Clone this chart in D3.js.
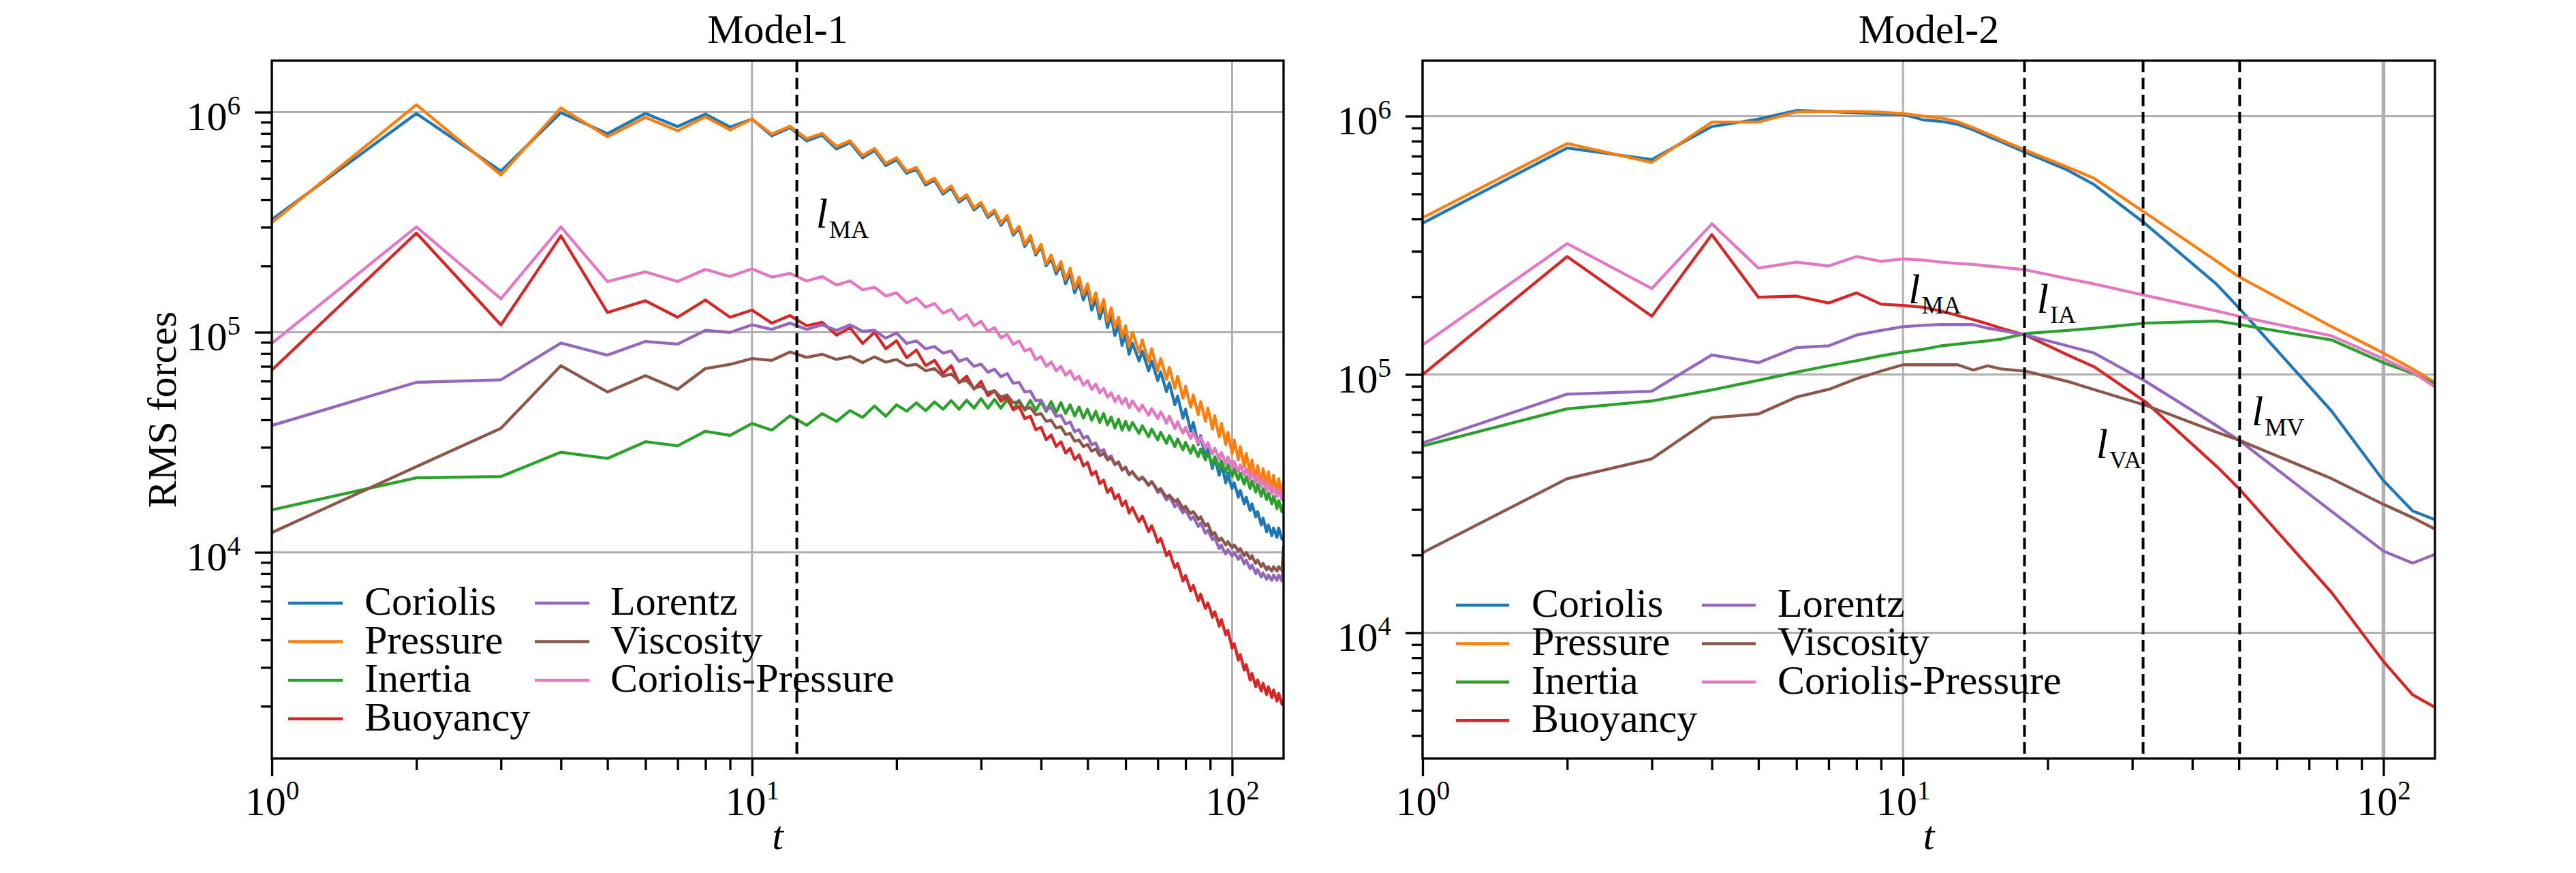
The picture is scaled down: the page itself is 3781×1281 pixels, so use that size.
<!DOCTYPE html>
<html>
<head>
<meta charset="utf-8">
<script src="https://cdn.jsdelivr.net/npm/d3@7"></script>
<style>
  body { margin: 0; background: #fff; }
  svg text { font-family: "Liberation Serif", "Times New Roman", serif; }
</style>
</head>
<body>
<div id="chart"></div>
<script>
// ---- data (RMS forces, in units of 1e3) ----
const UNIT = 1e3;
const seriesNames = ["Coriolis", "Pressure", "Inertia", "Buoyancy", "Lorentz", "Viscosity", "Coriolis-Pressure"];
const seriesColors = ["#1f77b4", "#ff7f0e", "#2ca02c", "#d62728", "#9467bd", "#8c564b", "#e377c2"];

// Model-1: every degree 1..128
const tModel1 = d3.range(1, 129);
const coriolis1 = [325, 986, 540, 995, 798, 986, 859, 980, 855, 930,
  780, 850, 740, 785, 680, 727, 620, 670, 572, 608,
  527, 550, 466, 491, 424, 452, 390, 413, 359, 381,
  332, 351, 306, 332, 276, 296, 245, 269, 224, 245,
  200, 216, 184, 200, 166, 186, 151, 168, 140, 157,
  126, 141, 115, 132, 105, 119, 96.6, 108, 87.1, 97.7,
  79.4, 89.1, 81.3, 74.1, 82.2, 74.1, 66.8, 74.1, 66.8, 60.3,
  66.1, 59.6, 53.7, 58.9, 52.5, 46.8, 51.3, 45.7, 40.7, 44.7,
  39.8, 35.5, 38.9, 34.7, 30.9, 33.9, 30.2, 26.9, 29.5, 26.6,
  24.0, 26.9, 24.5, 22.4, 25.1, 22.9, 20.7, 22.9, 20.9, 19.5,
  20.7, 19.3, 17.8, 19.1, 17.8, 16.6, 17.8, 16.6, 15.5, 16.6,
  15.5, 14.5, 15.3, 14.3, 13.3, 14.3, 13.3, 12.4, 13.3, 12.6,
  11.9, 12.9, 12.3, 11.7, 12.9, 12.2, 11.5, 11.7];
const pressure1 = [315, 1080, 518, 1045, 773, 946, 823, 952, 830, 930,
  795, 863, 757, 800, 698, 741, 634, 684, 585, 621,
  538, 561, 476, 501, 433, 462, 398, 422, 367, 389,
  339, 359, 313, 339, 282, 303, 251, 275, 229, 251,
  204, 224, 191, 209, 174, 195, 158, 178, 148, 166,
  135, 151, 123, 141, 112, 129, 105, 117, 95.5, 107,
  86.1, 100, 90.2, 81.3, 92.3, 82.2, 73.3, 84.1, 74.1, 66.8,
  75.9, 68.4, 61.0, 69.2, 61.7, 55.6, 63.1, 56.2, 50.1, 56.9,
  50.7, 45.7, 51.9, 46.8, 42.2, 48.4, 43.7, 39.4, 45.2, 40.7,
  36.3, 41.7, 37.2, 33.5, 38.5, 34.7, 30.9, 35.1, 31.3, 28.2,
  32.4, 29.2, 26.3, 30.2, 27.2, 24.5, 28.2, 25.4, 22.9, 26.3,
  23.7, 21.6, 24.8, 22.6, 20.7, 24.0, 21.9, 20.0, 23.2, 21.1,
  19.3, 22.4, 20.4, 18.6, 21.6, 19.7, 18.0, 20.9];
const inertia1 = [15.6, 21.8, 22.1, 28.5, 26.7, 31.8, 30.5, 35.5, 34.0, 38.5,
  35.9, 41.7, 37.8, 42.7, 39.3, 44.1, 41.0, 46.2, 41.5, 46.8,
  43.8, 47.8, 44.0, 48.2, 44.7, 48.9, 44.7, 49.1, 45.2, 49.9,
  45.2, 49.5, 45.2, 49.5, 44.7, 49.0, 44.2, 49.0, 44.2, 48.4,
  43.7, 48.4, 43.2, 47.9, 42.7, 46.8, 41.7, 45.7, 40.7, 44.7,
  39.8, 43.7, 38.9, 42.7, 38.0, 41.2, 36.7, 40.3, 35.9, 39.4,
  35.9, 38.9, 36.7, 34.7, 37.6, 35.5, 33.5, 36.3, 34.3, 32.4,
  35.1, 33.1, 31.3, 33.9, 32.0, 30.2, 32.7, 30.9, 29.2, 31.6,
  29.9, 28.2, 30.5, 28.8, 27.2, 29.5, 27.9, 26.3, 28.2, 26.6,
  25.1, 27.2, 25.7, 24.0, 26.0, 24.5, 23.2, 25.1, 23.4, 22.1,
  24.0, 22.6, 21.4, 22.9, 21.6, 20.4, 22.1, 20.9, 19.5, 21.1,
  20.0, 18.8, 20.4, 19.1, 18.0, 19.5, 18.4, 17.4, 18.6, 17.6,
  16.6, 18.0, 17.0, 15.8, 17.2, 16.2, 15.3, 16.6];
const buoyancy1 = [67.3, 282, 108, 274, 123, 139, 117, 140, 117, 126,
  110, 119, 107, 111, 97.0, 105, 88.9, 100, 84.1, 91.4,
  76.6, 83.0, 70.5, 74.5, 65.0, 70.5, 59.0, 63.1, 55.2, 59.8,
  51.5, 54.1, 48.6, 51.1, 44.4, 46.0, 40.5, 41.5, 36.1, 37.0,
  32.5, 34.1, 30.3, 31.8, 28.3, 29.7, 26.4, 27.7, 24.7, 25.6,
  22.5, 23.3, 20.5, 21.3, 18.7, 19.6, 17.5, 18.3, 16.3, 17.1,
  15.1, 16.0, 14.8, 13.8, 14.6, 13.5, 12.4, 13.2, 12.2, 11.1,
  11.6, 10.6, 9.66, 10.1, 9.23, 8.51, 8.91, 8.13, 7.41, 7.85,
  7.24, 6.68, 7.08, 6.53, 6.03, 6.46, 5.96, 5.56, 5.89, 5.50,
  5.07, 5.37, 5.01, 4.62, 4.95, 4.57, 4.22, 4.42, 4.03, 3.67,
  3.85, 3.55, 3.24, 3.43, 3.16, 2.92, 3.09, 2.85, 2.63, 2.82,
  2.63, 2.45, 2.63, 2.48, 2.34, 2.54, 2.40, 2.26, 2.45, 2.32,
  2.19, 2.37, 2.24, 2.11, 2.29, 2.16, 2.04, 2.14];
const lorentz1 = [37.7, 59.2, 60.8, 89.3, 78.7, 90.8, 88.3, 102, 99.8, 108,
  103, 110, 103, 108, 102, 108, 101, 102, 94.0, 99.3,
  88.9, 91.4, 84.1, 86.1, 80.4, 82.2, 73.8, 75.9, 70.0, 71.6,
  65.8, 67.9, 62.8, 64.9, 58.6, 59.2, 53.5, 54.0, 48.8, 49.2,
  44.5, 45.4, 41.5, 41.9, 38.3, 39.1, 35.3, 36.1, 33.0, 33.7,
  30.8, 31.4, 28.7, 29.3, 26.8, 27.4, 25.0, 25.8, 23.6, 24.4,
  22.5, 23.3, 22.1, 21.3, 22.0, 21.1, 20.1, 21.0, 20.0, 18.7,
  19.1, 18.2, 17.3, 17.9, 17.0, 16.1, 16.7, 15.8, 15.1, 15.6,
  14.8, 14.1, 14.5, 13.8, 13.1, 13.6, 12.9, 12.2, 12.6, 12.0,
  11.4, 11.7, 11.0, 10.4, 10.8, 10.2, 9.84, 10.3, 9.95, 9.62,
  10.0, 9.66, 9.29, 9.70, 9.29, 8.87, 9.23, 8.81, 8.43, 8.75,
  8.38, 8.00, 8.36, 8.04, 7.73, 8.07, 7.80, 7.55, 7.89, 7.67,
  7.46, 7.89, 7.67, 7.46, 7.89, 7.67, 7.41, 9.33];
const viscosity1 = [12.3, 24.5, 36.6, 70.5, 53.5, 63.5, 55.0, 68.4, 71.4, 75.9,
  74.5, 81.3, 76.9, 79.4, 75.2, 77.6, 72.8, 77.3, 73.1, 75.2,
  70.5, 71.4, 66.8, 68.4, 63.1, 64.6, 59.6, 60.3, 55.6, 56.9,
  53.1, 54.3, 50.7, 51.9, 47.9, 48.4, 44.7, 45.5, 42.2, 42.7,
  39.4, 39.8, 36.7, 37.2, 34.3, 34.7, 32.0, 32.4, 30.2, 30.9,
  28.8, 29.5, 27.5, 28.2, 26.3, 26.9, 25.1, 25.7, 23.7, 24.3,
  22.6, 23.2, 22.1, 21.4, 21.9, 21.1, 20.2, 20.9, 20.0, 19.1,
  19.5, 18.6, 17.8, 18.2, 17.6, 17.0, 17.4, 16.6, 15.8, 16.2,
  15.5, 15.0, 15.3, 14.8, 14.1, 14.5, 13.8, 13.2, 13.5, 12.7,
  12.0, 12.3, 11.7, 11.3, 11.6, 11.2, 10.8, 11.2, 10.8, 10.5,
  10.8, 10.5, 10.1, 10.4, 10.0, 9.66, 10.0, 9.66, 9.33, 9.66,
  9.23, 8.91, 9.23, 8.91, 8.61, 8.91, 8.61, 8.32, 8.61, 8.41,
  8.22, 8.61, 8.41, 8.22, 8.61, 8.41, 8.28, 10.7];
const corPres1 = [89, 301, 142, 301, 170, 188, 170, 193, 179, 194,
  178, 185, 171, 179, 164, 171, 156, 160, 146, 151,
  136, 143, 130, 135, 122, 127, 114, 120, 107, 112,
  101, 105, 94.4, 97.7, 88.1, 91.2, 82.2, 84.1, 75.0, 77.6,
  70.0, 73.3, 66.8, 70.0, 63.8, 66.8, 61.0, 63.1, 57.5, 60.3,
  55.0, 58.2, 53.1, 55.6, 50.7, 53.1, 48.4, 51.3, 47.3, 50.1,
  45.4, 48.8, 46.2, 43.9, 46.6, 44.2, 41.9, 45.0, 42.7, 40.5,
  43.4, 41.2, 38.6, 41.5, 38.9, 36.5, 39.2, 36.7, 34.8, 37.0,
  34.7, 32.9, 35.3, 33.1, 31.4, 33.3, 31.6, 29.6, 31.5, 29.5,
  28.0, 29.7, 28.2, 26.4, 28.4, 26.9, 25.2, 27.1, 25.7, 24.1,
  25.9, 24.5, 23.3, 25.0, 23.7, 22.5, 24.0, 22.6, 21.5, 23.1,
  21.9, 20.7, 22.3, 21.1, 20.0, 21.3, 20.2, 19.1, 20.6, 19.5,
  18.5, 19.9, 18.8, 17.9, 19.2, 18.2, 17.3, 18.5];

// Model-2: coarser sampling
const tModel2 = [1, 2, 3, 4, 5, 6, 7, 8, 9, 10, 11, 12, 13, 14, 15, 16, 18, 22, 25, 32, 45, 50, 78, 100, 115, 128];
const coriolis2 = [385, 753, 679, 912, 973, 1052, 1042, 1030, 1019, 1016, 968, 955, 929, 885, 836, 796, 723, 618, 543, 382, 223, 181, 72.1, 38.8, 29.6, 27.4];
const pressure2 = [404, 783, 662, 948, 948, 1038, 1042, 1042, 1035, 1023, 1000, 984, 951, 902, 853, 809, 738, 635, 574, 421, 274, 239, 153, 121, 105, 93.1];
const inertia2 = [52.8, 73.6, 78.9, 87.1, 94.8, 102, 108, 113, 118, 122, 125, 129, 131, 133, 135, 137, 144, 148, 151, 158, 161, 156, 136, 111, 101, 91.8];
const buoyancy2 = [99.8, 286, 168, 348, 199, 201, 189, 207, 187, 185, 182, 176, 169, 163, 157, 151, 142, 119, 107, 78.2, 44.0, 36.2, 14.3, 7.74, 5.75, 5.14];
const lorentz2 = [54.3, 83.9, 86.1, 119, 111, 127, 129, 142, 148, 153, 155, 156, 156, 156, 151, 148, 142, 129, 121, 94.0, 63.2, 55.7, 29.5, 20.7, 18.6, 20.1];
const viscosity2 = [20.4, 39.5, 47.1, 67.9, 70.3, 81.7, 87.5, 96.2, 103, 109, 109, 109, 109, 104, 108, 105, 103, 94.0, 87.3, 75.9, 59.7, 55.7, 39.5, 31.4, 27.9, 25.2];
const corPres2 = [130, 321, 215, 383, 258, 272, 263, 286, 274, 280, 277, 272, 269, 267, 263, 260, 254, 235, 224, 202, 176, 168, 141, 115, 102, 89.5];

// characteristic scales (dashed lines) and their labels
const scaleLines1 = [12.4];
const scaleLines2 = [17.9, 31.6, 50.2];
const scaleLabels1 = [{ sub: "MA", t: 13.6, v: 2.99e5 }];
const scaleLabels2 = [
  { sub: "MA", t: 10.27, v: 1.886e5 },
  { sub: "IA", t: 19.0, v: 1.73e5 },
  { sub: "VA", t: 25.25, v: 4.76e4 },
  { sub: "MV", t: 53.2, v: 6.36e4 }
];

// ---- layout ----
const W = 3781, H = 1281;
const FONT = 60;
const panels = [
  { title: "Model-1", left: 399, right: 1884, top: 89, bottom: 1113, yDomain: [1157, 1.713e6],
    t: tModel1, series: [coriolis1, pressure1, inertia1, buoyancy1, lorentz1, viscosity1, corPres1],
    vlines: scaleLines1, labels: scaleLabels1, wideGrid: [],
    legend: { h0: 24, h1: 104, tx: 136, h0b: 386, h1b: 466, txb: 497, y0: 796, dy: 56.6 } },
  { title: "Model-2", left: 2088, right: 3574, top: 89, bottom: 1113, yDomain: [3258, 1.64e6],
    t: tModel2, series: [coriolis2, pressure2, inertia2, buoyancy2, lorentz2, viscosity2, corPres2],
    vlines: scaleLines2, labels: scaleLabels2, wideGrid: [100],
    legend: { h0: 49, h1: 127, tx: 160, h0b: 410, h1b: 489, txb: 521, y0: 799, dy: 56.4 } }
];

const svg = d3.select("#chart").append("svg")
  .attr("width", W).attr("height", H)
  .style("background", "#fff");

function powLabel(sel) {
  sel.each(function(d) {
    const t = d3.select(this).text(null);
    t.append("tspan").text("10");
    t.append("tspan").attr("dy", -23).attr("font-size", 39).text(Math.round(Math.log10(d)));
  });
}

panels.forEach((p, pi) => {
  const x = d3.scaleLog().domain([1, 128]).range([p.left, p.right]);
  const y = d3.scaleLog().domain(p.yDomain).range([p.bottom, p.top]);
  const g = svg.append("g");

  g.append("clipPath").attr("id", "clip" + pi)
    .append("rect").attr("x", p.left).attr("y", p.top)
    .attr("width", p.right - p.left).attr("height", p.bottom - p.top);

  const xMajor = [1, 10, 100];
  const xMinor = [];
  [1, 10].forEach(b => d3.range(2, 10).forEach(k => { if (b * k <= 128) xMinor.push(b * k); }));
  const yMajor = [1e3, 1e4, 1e5, 1e6].filter(v => v >= p.yDomain[0] && v <= p.yDomain[1]);
  const yMinor = [];
  [1e3, 1e4, 1e5, 1e6].forEach(b => d3.range(2, 10).forEach(k => {
    const v = b * k;
    if (v >= p.yDomain[0] && v <= p.yDomain[1]) yMinor.push(v);
  }));

  // grid
  const grid = g.append("g").attr("stroke", "#b0b0b0").attr("stroke-width", 3);
  grid.selectAll("line.gx").data(xMajor).join("line")
    .attr("x1", d => x(d)).attr("x2", d => x(d))
    .attr("y1", p.top).attr("y2", p.bottom)
    .attr("stroke-width", d => p.wideGrid.includes(d) ? 5.5 : 3);
  grid.selectAll("line.gy").data(yMajor).join("line")
    .attr("x1", p.left).attr("x2", p.right)
    .attr("y1", d => y(d)).attr("y2", d => y(d));

  // data lines
  const line = d3.line()
    .x((d, i) => x(p.t[i]))
    .y(d => y(d * UNIT));
  g.append("g").attr("clip-path", `url(#clip${pi})`)
    .selectAll("path").data(p.series).join("path")
    .attr("d", d => line(d))
    .attr("fill", "none")
    .attr("stroke", (d, i) => seriesColors[i])
    .attr("stroke-width", 4.3)
    .attr("stroke-linejoin", "round");

  // dashed characteristic-scale lines
  g.append("g").selectAll("line").data(p.vlines).join("line")
    .attr("x1", d => x(d)).attr("x2", d => x(d))
    .attr("y1", p.top).attr("y2", p.bottom)
    .attr("stroke", "#000").attr("stroke-width", 4)
    .attr("stroke-dasharray", "17,8");

  // labels l_XX
  p.labels.forEach(l => {
    const txt = g.append("text")
      .attr("x", x(l.t)).attr("y", y(l.v))
      .attr("font-size", 62);
    txt.append("tspan").attr("font-style", "italic").text("l");
    txt.append("tspan").attr("font-size", 36).attr("dy", 15).attr("dx", 2).text(l.sub);
  });

  // axes
  const xAxis = g.append("g").attr("transform", `translate(0,${p.bottom})`)
    .call(d3.axisBottom(x).tickValues(xMajor).tickSize(26).tickPadding(8));
  xAxis.selectAll(".tick text").attr("y", 83).attr("dy", 0).call(powLabel);
  g.append("g").attr("transform", `translate(0,${p.bottom})`)
    .call(d3.axisBottom(x).tickValues(xMinor).tickSize(17).tickFormat(""));

  const yAxis = g.append("g").attr("transform", `translate(${p.left},0)`)
    .call(d3.axisLeft(y).tickValues(yMajor).tickSize(25));
  yAxis.selectAll(".tick text").attr("x", -46).attr("dy", 0).attr("y", 26).call(powLabel);
  g.append("g").attr("transform", `translate(${p.left},0)`)
    .call(d3.axisLeft(y).tickValues(yMinor).tickSize(16).tickFormat(""));

  g.selectAll(".domain").remove();
  g.selectAll(".tick line").attr("stroke", "#000").attr("stroke-width", 3.3);
  g.selectAll(".tick text").attr("fill", "#000")
    .attr("font-family", null).attr("font-size", FONT);
  g.selectAll("g").filter(function() { return this.getAttribute("font-size") === "10"; })
    .attr("font-size", null).attr("font-family", null);

  // spines
  g.append("rect")
    .attr("x", p.left).attr("y", p.top)
    .attr("width", p.right - p.left).attr("height", p.bottom - p.top)
    .attr("fill", "none").attr("stroke", "#000").attr("stroke-width", 3.3);

  // title and x label
  g.append("text").attr("x", (p.left + p.right) / 2).attr("y", 63)
    .attr("text-anchor", "middle").attr("font-size", FONT).text(p.title);
  g.append("text").attr("x", (p.left + p.right) / 2).attr("y", 1246)
    .attr("text-anchor", "middle").attr("font-size", FONT)
    .attr("font-style", "italic").text("t");

  // legend (two columns, no frame)
  const L = p.legend;
  seriesNames.forEach((name, i) => {
    const col = i < 4 ? 0 : 1;
    const row = col === 0 ? i : i - 4;
    const yy = p.top + L.y0 + row * L.dy;
    const h0 = p.left + (col === 0 ? L.h0 : L.h0b);
    const h1 = p.left + (col === 0 ? L.h1 : L.h1b);
    const tx = p.left + (col === 0 ? L.tx : L.txb);
    g.append("line").attr("x1", h0).attr("x2", h1).attr("y1", yy).attr("y2", yy)
      .attr("stroke", seriesColors[i]).attr("stroke-width", 4.5);
    g.append("text").attr("x", tx).attr("y", yy + 17)
      .attr("font-size", FONT).text(name);
  });
});

// y label
svg.append("text")
  .attr("transform", "translate(258,601) rotate(-90)")
  .attr("text-anchor", "middle").attr("font-size", FONT)
  .text("RMS forces");
</script>
</body>
</html>
